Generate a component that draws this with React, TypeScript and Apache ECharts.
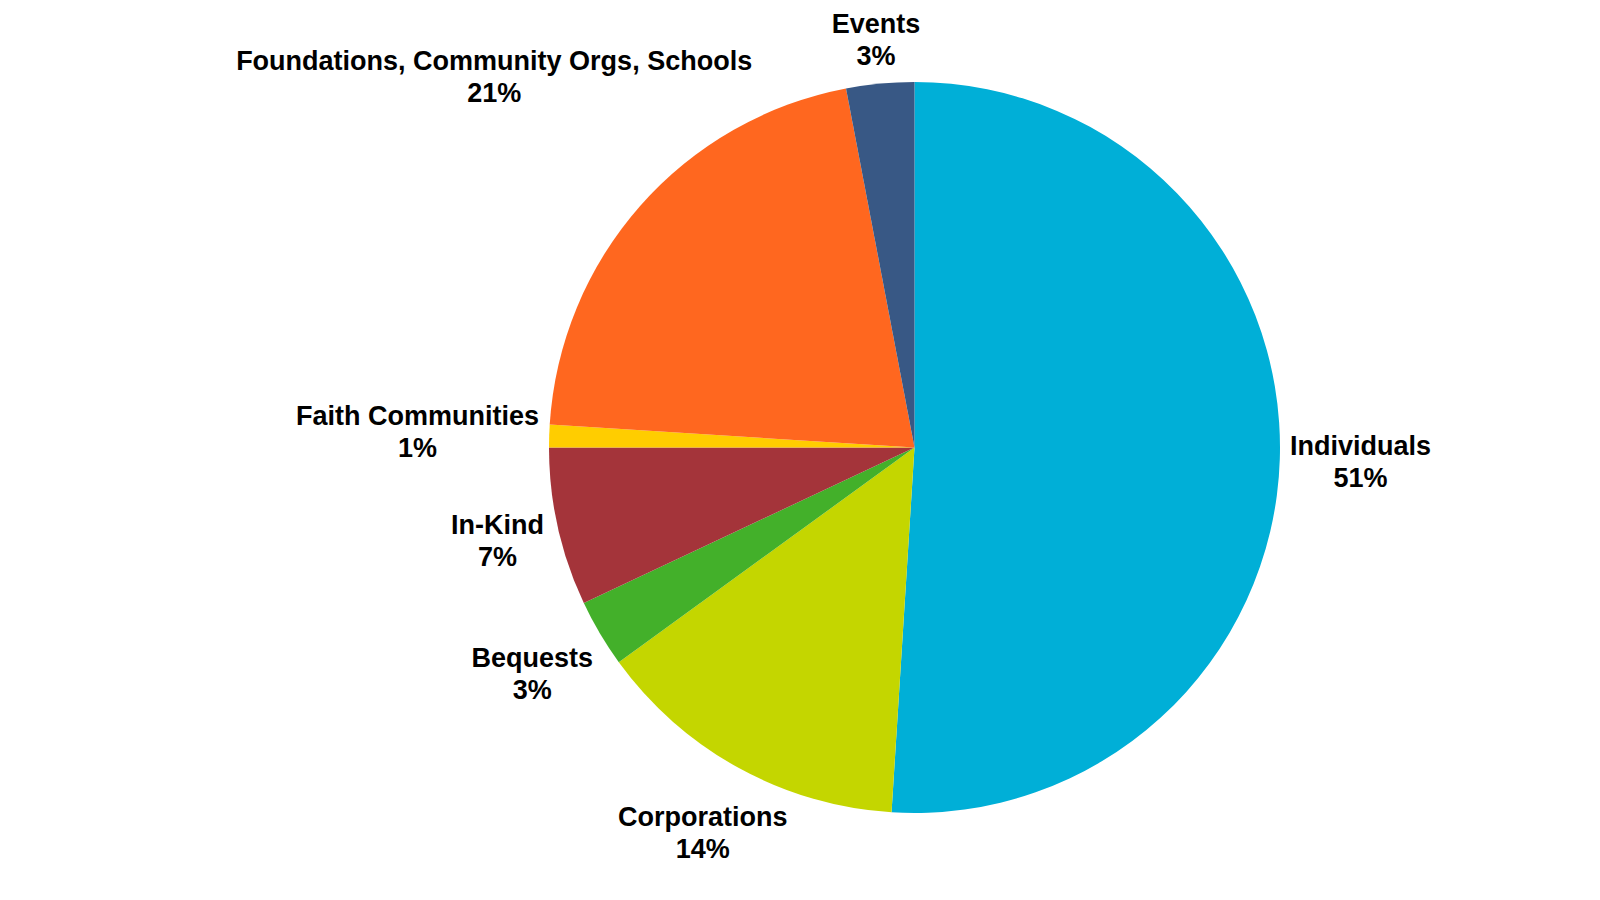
import * as echarts from "echarts"
import { useEffect, useRef } from "react"

// slices, clockwise from 12 o'clock
const categories = [
  "Individuals",
  "Corporations",
  "Bequests",
  "In-Kind",
  "Faith Communities",
  "Foundations, Community Orgs, Schools",
  "Events",
]
const shares = [51, 14, 3, 7, 1, 21, 3]
const colors = [
  "#00AFD7",
  "#C4D600",
  "#43B02A",
  "#A4343A",
  "#FFCD00",
  "#FF671F",
  "#385885",
]

const CX = 914.5
const CY = 447.5
const R = 365.5
const GAP = 10

// push the label box out along the slice's mid-angle until it clears the circle
function placeLabel(index: number, w: number, h: number) {
  const total = shares.reduce((a, b) => a + b, 0)
  let before = 0
  for (let i = 0; i < index; i++) before += shares[i]
  const mid = ((before + shares[index] / 2) / total) * Math.PI * 2
  const ux = Math.sin(mid)
  const uy = -Math.cos(mid)
  const clear = (t: number) => {
    const ex = Math.max(0, Math.abs(ux * t) - w / 2)
    const ey = Math.max(0, Math.abs(uy * t) - h / 2)
    return Math.sqrt(ex * ex + ey * ey) >= R + GAP
  }
  let lo = 0
  let hi = 2000
  for (let k = 0; k < 60; k++) {
    const m = (lo + hi) / 2
    if (clear(m)) hi = m
    else lo = m
  }
  return { x: CX + ux * hi, y: CY + uy * hi }
}

export default function App(): React.ReactElement {
  const ref = useRef<HTMLDivElement>(null)

  useEffect(() => {
    const node = ref.current
    if (!node) return
    const chart = echarts.init(node, undefined, { renderer: "svg" })

    chart.setOption({
      backgroundColor: "#ffffff",
      animation: false,
      series: [
        {
          type: "pie",
          center: [CX, CY],
          radius: R,
          startAngle: 90,
          clockwise: true,
          avoidLabelOverlap: false,
          minShowLabelAngle: 0,
          data: categories.map((name, i) => ({
            name,
            value: shares[i],
            itemStyle: { color: colors[i] },
          })),
          itemStyle: { borderWidth: 0 },
          emphasis: { disabled: true },
          label: {
            show: true,
            position: "outside",
            formatter: "{b}\n{c}%",
            fontFamily: "Liberation Sans, Arial, sans-serif",
            fontWeight: "bold",
            fontSize: 27,
            lineHeight: 32,
            color: "#000000",
          },
          labelLine: { show: false, length: 0, length2: 0 },
          labelLayout: (params: any) => {
            const p = placeLabel(
              params.dataIndex,
              params.labelRect.width,
              params.labelRect.height,
            )
            return { x: p.x, y: p.y, align: "center", verticalAlign: "middle" }
          },
        },
      ],
    })

    return () => {
      chart.dispose()
    }
  }, [])

  return (
    <div
      ref={ref}
      style={{
        position: "fixed",
        left: 0,
        top: 0,
        width: 1600,
        height: 900,
        background: "#ffffff",
      }}
    />
  )
}
